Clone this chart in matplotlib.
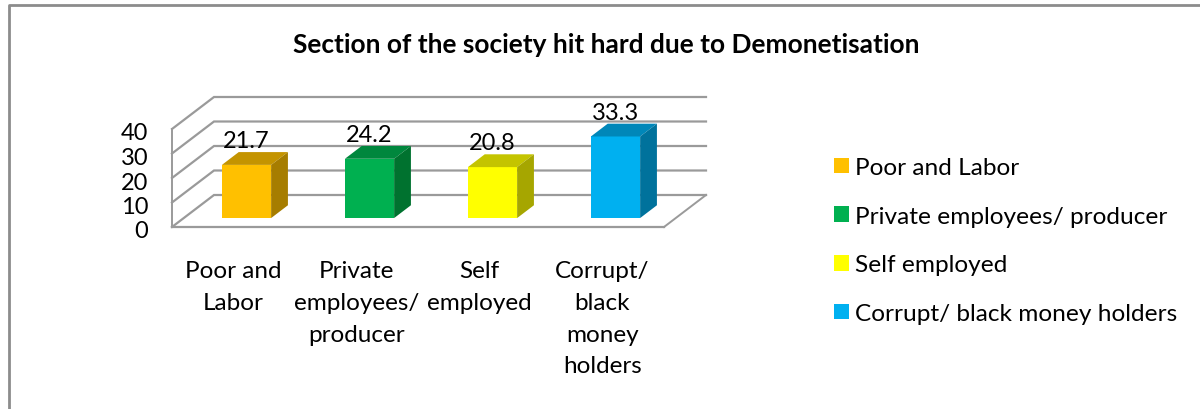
import matplotlib
matplotlib.use('Agg')
import matplotlib.pyplot as plt
from matplotlib.lines import Line2D
from matplotlib.patches import Patch
from matplotlib.transforms import ScaledTranslation

plt.rcParams['font.family'] = ['Lato', 'DejaVu Sans']

# data
categories = ['Poor and\nLabor', 'Private\nemployees/\nproducer', 'Self\nemployed', 'Corrupt/\nblack\nmoney\nholders']
legend_labels = ['Poor and Labor', 'Private employees/ producer', 'Self employed', 'Corrupt/ black money holders']
values = [21.7, 24.2, 20.8, 33.3]
y_ticks = [0, 10, 20, 30, 40]

front_colors = ['#FFC000', '#00B050', '#FFFF00', '#00B0F0']
top_colors = ['#C49400', '#00873D', '#C4C400', '#0087B9']
side_colors = ['#A67D00', '#00722F', '#A6A600', '#00729C']
grid_color = '#9A9A9A'

W, H = 1200, 410
fig = plt.figure(figsize=(W / 100, H / 100), dpi=100)
ax = fig.add_axes([172 / W, 1 - 228 / H, 492 / W, 98 / H])
ax.set_xlim(-0.5, 3.5)
ax.set_ylim(0, 40)
ax.patch.set_visible(False)

# fake 3d: how far the back wall is shifted, in data units
depth_x = 42 / 123
depth_y = 32 / 2.45
bar_w = 0.40
bar_start = 0.31
bar_depth = 0.40

# walls and floor
for t in y_ticks:
    ax.plot([-0.5, -0.5 + depth_x, 3.5 + depth_x], [t, t + depth_y, t + depth_y],
            color=grid_color, lw=1.6, clip_on=False, zorder=1, solid_joinstyle='miter')
ax.plot([3.5, 3.5 + depth_x], [0, depth_y], color=grid_color, lw=1.4, clip_on=False, zorder=1)

# bars
for i, v in enumerate(values):
    x0 = i - bar_w / 2 + bar_start * depth_x
    x1 = x0 + bar_w
    y0 = bar_start * depth_y - 0.4
    dx = bar_depth * depth_x
    dy = bar_depth * depth_y
    ax.bar(x0, v, width=bar_w, bottom=y0, align='edge', color=front_colors[i], zorder=3, clip_on=False)
    ax.fill([x0, x1, x1 + dx, x0 + dx], [y0 + v, y0 + v, y0 + v + dy, y0 + v + dy],
            color=top_colors[i], lw=0, zorder=3, clip_on=False)
    ax.fill([x1, x1 + dx, x1 + dx, x1], [y0, y0 + dy, y0 + v + dy, y0 + v],
            color=side_colors[i], lw=0, zorder=3, clip_on=False)
    ax.annotate(str(v), (x0 + bar_w / 2, y0 + v + dy), xytext=(0, 0.8), textcoords='offset points',
                ha='center', va='bottom', fontsize=17, color='black', zorder=4, annotation_clip=False)

ax.set_xticks(range(len(categories)))
ax.set_xticklabels(categories, fontsize=17.5, linespacing=1.63)
ax.set_yticks(y_ticks)
ax.tick_params(axis='y', length=0, pad=17, labelsize=17)
ax.tick_params(axis='x', length=0, pad=24)
# y labels sit a little lower than matplotlib puts them
shift = ScaledTranslation(0, -2 / 100, fig.dpi_scale_trans)
for label in ax.get_yticklabels():
    label.set_transform(label.get_transform() + shift)
for name in ['top', 'right']:
    ax.spines[name].set_visible(False)
ax.spines['left'].set_color(grid_color)
ax.spines['bottom'].set_color(grid_color)
ax.spines['left'].set_linewidth(1.4)
ax.spines['bottom'].set_linewidth(1.6)

fig.text(606 / W, 1 - 45 / H, 'Section of the society hit hard due to Demonetisation',
         ha='center', va='center', fontsize=18.9, fontweight='bold')

handles = [Patch(facecolor=c, edgecolor='none') for c in front_colors]
fig.legend(handles, legend_labels, loc='upper left', bbox_to_anchor=(834 / W, 1 - 158 / H),
           frameon=False, fontsize=17.6, handlelength=0.61, handleheight=0.61,
           handletextpad=0.25, labelspacing=1.135, borderpad=0, borderaxespad=0)

# outer frame of the chart, only top and left show
fig.add_artist(Line2D([8.5 / W, 8.5 / W, 1], [0, 1 - 6 / H, 1 - 6 / H], color='#8C8C8C', lw=2))

fig.savefig('out.png', dpi=100)
